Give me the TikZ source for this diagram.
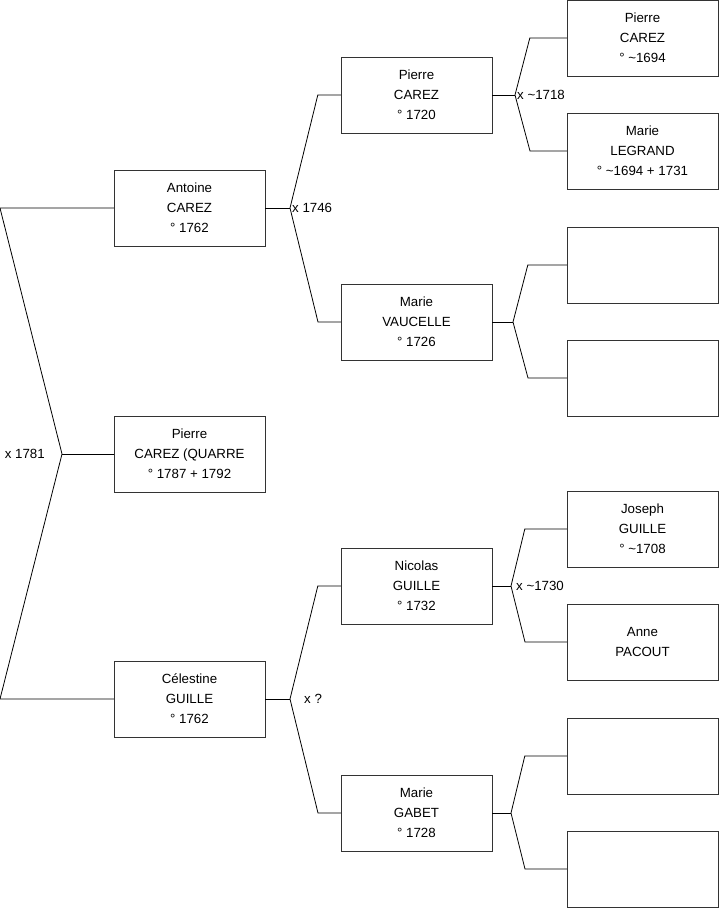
\documentclass[tikz,border=0pt]{standalone}
\usepackage{fontspec}
\setmainfont{Liberation Sans}
\usetikzlibrary{positioning}
\tikzset{
	person/.style = {draw = black!80, minimum width = 151pt, minimum height = 76pt, inner sep = 0pt, align = center, font = \fontsize{13.3}{20}\selectfont},
	mariage/.style = {inner sep = 0pt, font = \fontsize{13.3}{16}\selectfont},
	lien/.style = {black, line width = 0.8pt}
}
\begin{document}
\begin{tikzpicture} [x = 1pt, y = -1pt]
	\useasboundingbox (0,0) rectangle (719,908);
	% generation 1
	\node [person] (antoine) at (189.5,208) {Antoine\\CAREZ\\° 1762};
	\node [person] (pierre) at (189.5,454) {Pierre\\CAREZ (QUARRE\\° 1787 + 1792};
	\node [person] (celestine) at (189.5,699) {Célestine\\GUILLE\\° 1762};
	% generation 2
	\node [person] (pcarez) at (416.5,95) {Pierre\\CAREZ\\° 1720};
	\node [person] (vaucelle) at (416.5,322) {Marie\\VAUCELLE\\° 1726};
	\node [person] (nicolas) at (416.5,586) {Nicolas\\GUILLE\\° 1732};
	\node [person] (gabet) at (416.5,813) {Marie\\GABET\\° 1728};
	% generation 3
	\node [person] (pcarez2) at (642.5,38) {Pierre\\CAREZ\\° \textasciitilde1694};
	\node [person] (legrand) at (642.5,151) {Marie\\LEGRAND\\° \textasciitilde1694 + 1731};
	\node [person] (v1) at (642.5,265) {};
	\node [person] (v2) at (642.5,378) {};
	\node [person] (joseph) at (642.5,529) {Joseph\\GUILLE\\° \textasciitilde1708};
	\node [person] (pacout) at (642.5,642) {Anne\\PACOUT};
	\node [person] (g1) at (642.5,756) {};
	\node [person] (g2) at (642.5,869) {};
	% branches
	\coordinate (r0) at (0,208);
	\coordinate (j0) at (62,454);
	\coordinate (s0) at (0,699);
	\draw [lien] (antoine.west) -- (r0) -- (j0) -- (s0) -- (celestine.west);
	\draw [lien] (j0) -- (pierre.west);
	\node [mariage, left = 17pt] at (j0) {x 1781};

	\coordinate (j1) at (290,208);
	\draw [lien] (antoine.east) -- (j1);
	\draw [lien] (pcarez.west) -- ++(-23,0) -- (j1) -- (318,322) -- (vaucelle.west);
	\node [mariage, right = 2pt] at (j1) {x 1746};

	\coordinate (j2) at (290,699);
	\draw [lien] (celestine.east) -- (j2);
	\draw [lien] (nicolas.west) -- ++(-23,0) -- (j2) -- (318,813) -- (gabet.west);
	\node [mariage, right = 14pt] at (j2) {x ?};

	\coordinate (j3) at (515,95);
	\draw [lien] (pcarez.east) -- (j3);
	\draw [lien] (pcarez2.west) -- ++(-37,0) -- (j3) -- (530,151) -- (legrand.west);
	\node [mariage, right = 2pt] at (j3) {x \textasciitilde1718};

	\coordinate (j4) at (513,322);
	\draw [lien] (vaucelle.east) -- (j4);
	\draw [lien] (v1.west) -- ++(-39,0) -- (j4) -- (528,378) -- (v2.west);

	\coordinate (j5) at (511,586);
	\draw [lien] (nicolas.east) -- (j5);
	\draw [lien] (joseph.west) -- ++(-42,0) -- (j5) -- (525,642) -- (pacout.west);
	\node [mariage, right = 5pt] at (j5) {x \textasciitilde1730};

	\coordinate (j6) at (511,813);
	\draw [lien] (gabet.east) -- (j6);
	\draw [lien] (g1.west) -- ++(-42,0) -- (j6) -- (525,869) -- (g2.west);
\end{tikzpicture}
\end{document}
